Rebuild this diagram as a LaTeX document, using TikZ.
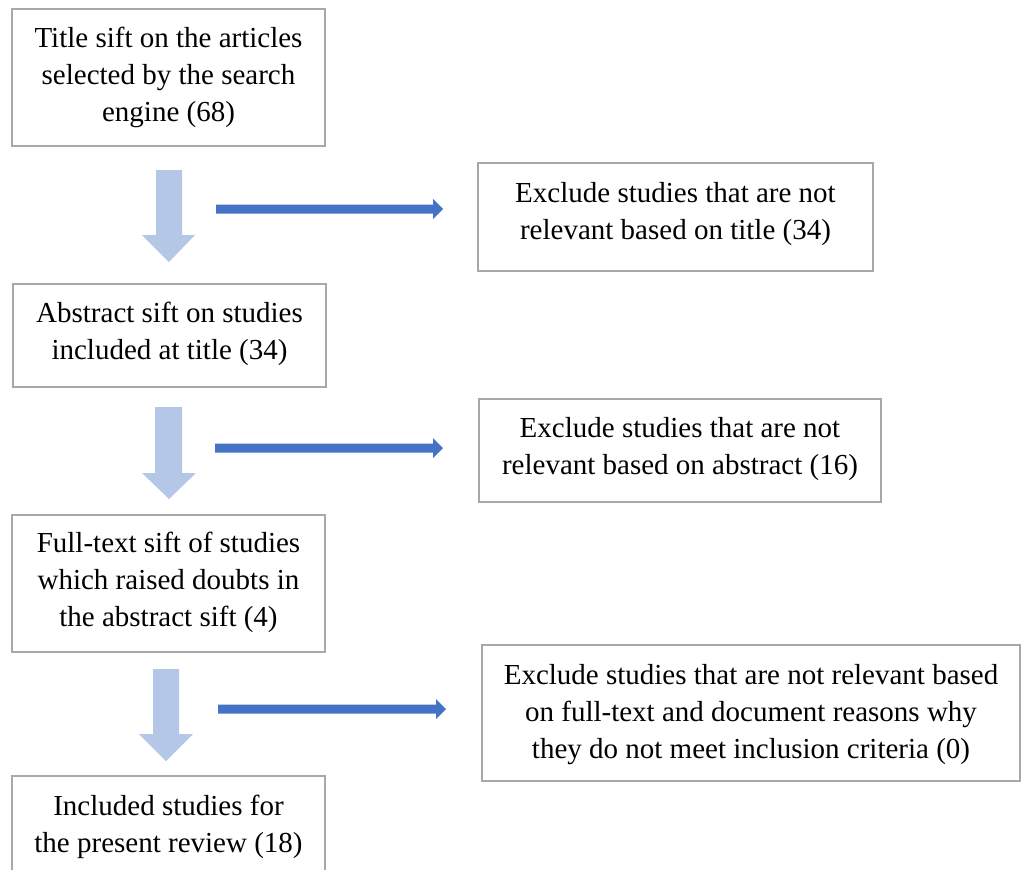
\documentclass[tikz,border=0pt]{standalone}
\usepackage{fontspec}
\setmainfont{Liberation Serif}
\definecolor{boxgray}{RGB}{168,168,168}
\definecolor{darkblue}{RGB}{68,114,196}
\definecolor{lightblue}{RGB}{180,199,231}
\begin{document}
\begin{tikzpicture}[x=1pt,y=-1pt,
  txt/.style={inner sep=0pt,align=center,font=\fontsize{29}{37}\selectfont},
  boxframe/.style={draw=boxgray,line width=1.8pt},
  downarrow/.style={fill=lightblue,draw=none},
  sidearrow/.style={fill=darkblue,draw=none}]
\clip (0,0) rectangle (1021,870);
\fill[white] (0,0) rectangle (1021,870);
% left boxes
\draw[boxframe] (12,9) rectangle (325,146);
\node[txt] (b1) at (168.5,77) {Title sift on the articles\\selected by the search\\engine (68)};
\draw[boxframe] (13,284) rectangle (326,387);
\node[txt] (b2) at (169.5,334) {Abstract sift on studies\\included at title (34)};
\draw[boxframe] (12,515) rectangle (325,652);
\node[txt] (b3) at (168.5,582) {Full-text sift of studies\\which raised doubts in\\the abstract sift (4)};
\draw[boxframe] (12,776) rectangle (325,890);
\node[txt] (b4) at (168.5,827) {Included studies for\\the present review (18)};
% right boxes
\draw[boxframe] (478,163) rectangle (873,271);
\node[txt] (e1) at (675.5,214) {Exclude studies that are not\\relevant based on title (34)};
\draw[boxframe] (479,399) rectangle (881,502);
\node[txt] (e2) at (680,449) {Exclude studies that are not\\relevant based on abstract (16)};
\draw[boxframe] (482,645) rectangle (1020,781);
\node[txt] (e3) at (751,714.5) {Exclude studies that are not relevant based\\on full-text and document reasons why\\they do not meet inclusion criteria (0)};
% down block arrows
\fill[downarrow] (156,170) -- (182,170) -- (182,235) -- (195,235) -- (169,262) -- (142,235) -- (156,235) -- cycle;
\fill[downarrow] (155,407) -- (182,407) -- (182,473) -- (196,473) -- (169,499) -- (142,473) -- (155,473) -- cycle;
\fill[downarrow] (153,669) -- (179,669) -- (179,734) -- (193,734) -- (166,761) -- (139,734) -- (153,734) -- cycle;
% side arrows
\fill[sidearrow] (216,204.5) -- (433,204.5) -- (433,199) -- (443,209) -- (433,219) -- (433,213.5) -- (216,213.5) -- cycle;
\fill[sidearrow] (215,443.5) -- (433,443.5) -- (433,438) -- (443,448) -- (433,458) -- (433,452.5) -- (215,452.5) -- cycle;
\fill[sidearrow] (218,704.5) -- (436,704.5) -- (436,699) -- (446,709) -- (436,719) -- (436,713.5) -- (218,713.5) -- cycle;
\end{tikzpicture}
\end{document}
